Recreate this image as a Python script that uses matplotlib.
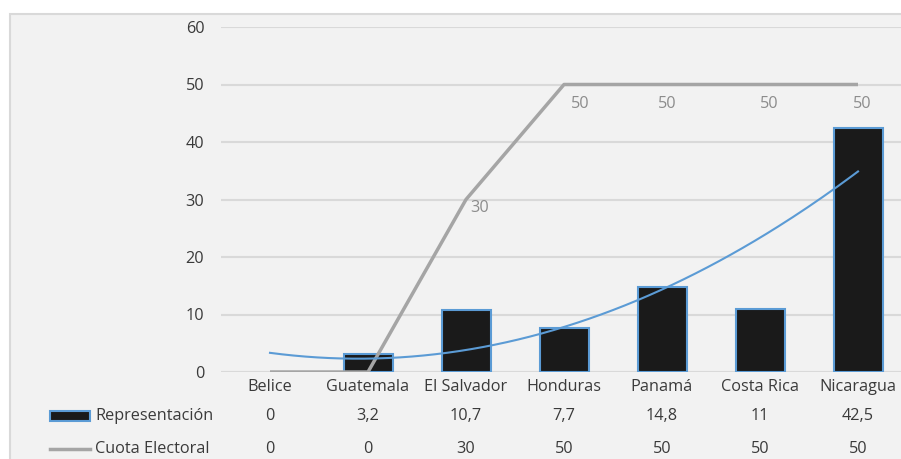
import numpy as np
import matplotlib
matplotlib.use("Agg")
import matplotlib.pyplot as plt
from matplotlib.patches import Rectangle
from matplotlib.lines import Line2D
from matplotlib.transforms import blended_transform_factory

plt.rcParams['font.family'] = ['Open Sans', 'DejaVu Sans']

# Data
paises = ["Belice", "Guatemala", "El Salvador", "Honduras", "Panamá", "Costa Rica", "Nicaragua"]
representacion = [0, 3.2, 10.7, 7.7, 14.8, 11, 42.5]
cuota = [0, 0, 30, 50, 50, 50, 50]
serie_rep = "Representación"
serie_cuota = "Cuota Electoral"
y_ticks = [0, 10, 20, 30, 40, 50, 60]

W, H = 901, 459
FS = 11.7
TXT = "#3a3a3a"
fig = plt.figure(figsize=(W / 100, H / 100), dpi=100)
fig.patch.set_facecolor("white")

def px(x, y):
    """pixel (from top-left) -> figure fraction"""
    return x / W, 1 - y / H

# chart frame
x0, y0 = px(10, 14)
frame = Rectangle((x0, -0.05), 1.1, y0 + 0.05, transform=fig.transFigure,
                  facecolor="#f2f2f2", edgecolor="#d9d9d9", linewidth=1.5, zorder=-5)
fig.patches.append(frame)

left, top = px(221, 27)
_, bottom = px(0, 372)
ax = fig.add_axes([left, bottom, 686 / W, top - bottom])
ax.set_facecolor("none")
ax.set_zorder(1)

x = np.arange(len(paises))
bars = ax.bar(x, representacion, width=0.5, color="#1a1a1a", edgecolor="#5b9bd5",
              linewidth=1.5, zorder=2)
for b, v in zip(bars, representacion):
    if v == 0:
        b.set_linewidth(0)

# polynomial (order 2) trendline of the representation series
coef = np.polyfit(x, representacion, 2)
xs = np.linspace(x[0], x[-1], 200)
ax.plot(xs, np.polyval(coef, xs), color="#5b9bd5", linewidth=1.5, zorder=4)

ax.plot(x, cuota, color="#a5a5a5", linewidth=2.5, zorder=3, solid_capstyle="butt")

# data labels of the quota line (offsets in pixels)
label_offsets = [None, None, (14, -8), (16, -19), (5, -19), (9, -19), (4, -19)]
for xi, v, off in zip(x, cuota, label_offsets):
    if off is None:
        continue
    ax.annotate(str(v), (xi, v), xytext=(off[0] * 0.72, off[1] * 0.72), textcoords="offset points",
                ha="center", va="center", color="#8c8c8c", fontsize=FS, zorder=5)

ax.set_xlim(-0.5, len(paises) - 0.5)
ax.set_ylim(0, 60)
ax.set_yticks(y_ticks)
ax.set_xticks([])
ax.grid(axis="y", color="#d9d9d9", linewidth=1.5, zorder=0)
ax.set_axisbelow(True)
for s in ax.spines.values():
    s.set_visible(False)
ax.axhline(0, color="#d9d9d9", linewidth=1.5, zorder=1)
ax.tick_params(axis="y", length=0, pad=12, labelsize=FS, labelcolor=TXT)

# data table below the plot
tr = blended_transform_factory(ax.transData, fig.transFigure)
ftr = fig.transFigure
fmt = lambda v: (f"{v:g}").replace(".", ",")
for xi, p, r, c in zip(x, paises, representacion, cuota):
    fig.text(xi, px(0, 387)[1], p, transform=tr, ha="center", va="center", fontsize=FS, color=TXT)
    fig.text(xi, px(0, 416)[1], fmt(r), transform=tr, ha="center", va="center", fontsize=FS, color=TXT)
    fig.text(xi, px(0, 449)[1], fmt(c), transform=tr, ha="center", va="center", fontsize=FS, color=TXT)

kx0, ky0 = px(50, 421)
kx1, ky1 = px(90, 411)
fig.patches.append(Rectangle((kx0, ky0), kx1 - kx0, ky1 - ky0, transform=ftr,
                             facecolor="#1a1a1a", edgecolor="#5b9bd5", linewidth=1.5))
lx0, ly = px(50, 449)
lx1, _ = px(90, 449)
fig.lines.append(Line2D([lx0, lx1], [ly, ly], transform=ftr, color="#a5a5a5", linewidth=2.5))
fig.text(*px(95, 416), serie_rep, ha="left", va="center", fontsize=FS, color=TXT)
fig.text(*px(95, 449), serie_cuota, ha="left", va="center", fontsize=FS, color=TXT)

fig.savefig("out.png", dpi=100)
